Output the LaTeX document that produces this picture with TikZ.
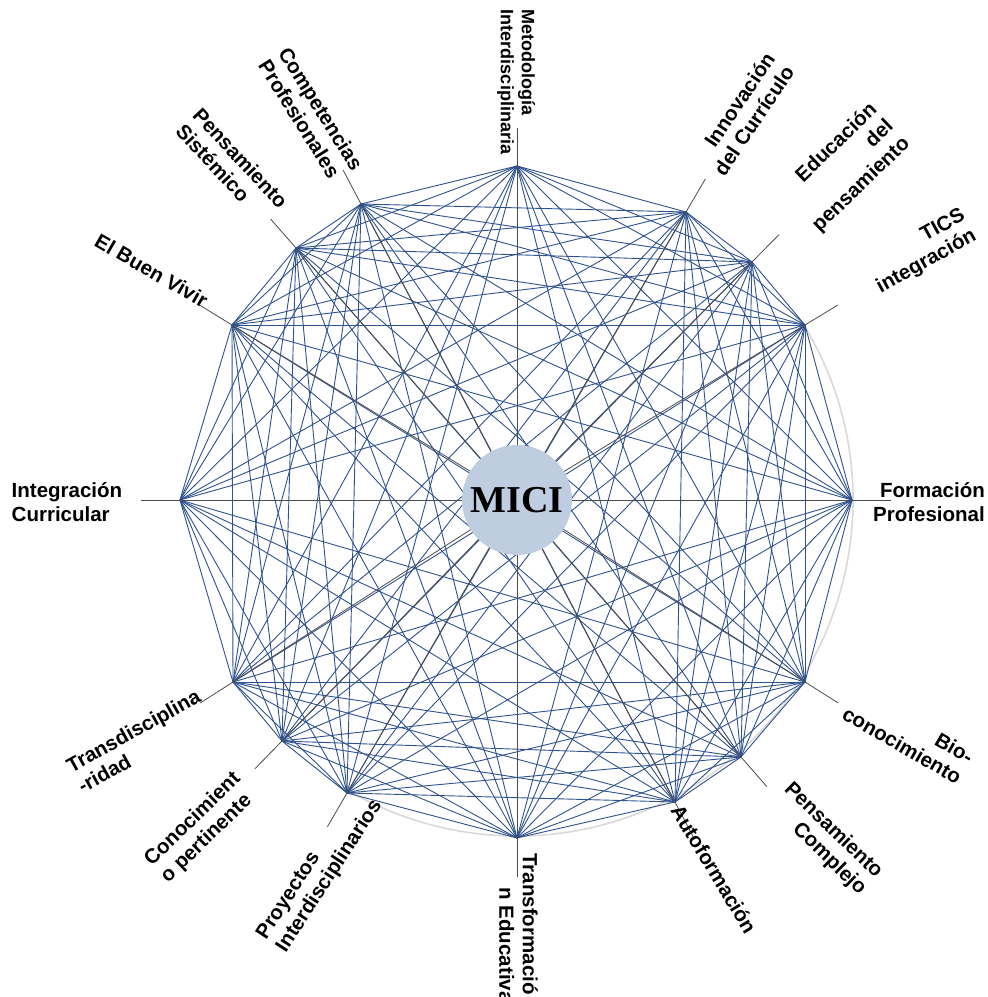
\documentclass[tikz,border=0pt]{standalone}
\usepackage{fontspec}
\setmainfont{Liberation Sans}
\newfontfamily\micifont{Liberation Serif}
\usetikzlibrary{calc}
\definecolor{chordblue}{RGB}{47,82,143}
\definecolor{hubfill}{RGB}{191,205,224}
\tikzset {
  chord/.style={chordblue,line width=0.9pt},
  spoke/.style={black!70,line width=0.8pt},
  lbl/.style={font=\fontsize{20.5}{23.5}\selectfont\bfseries,inner sep=0pt},
}

\begin{document}
\begin{tikzpicture}[x=1pt,y=1pt]
  \useasboundingbox (-517,-497) rectangle (471,500);
  \draw[black!15,line width=1.6pt] (31:336pt) arc[start angle=31,end angle=-122,radius=336pt];
  \foreach \n/\x/\y in {1/0/334,2/169/288,3/235/238,4/288/175,5/335/0,6/288/-182,
      7/224/-257,8/158/-302,9/0/-338,10/-170/-293,11/-235/-241,12/-284/-182,
      13/-337/0,14/-285/175,15/-221/252,16/-156/296} {
    \coordinate (v\n) at (\x,\y);
    \coordinate (t\n) at (1.115*\x,1.115*\y);
  }
  \foreach \i [evaluate=\i as \k using {int(\i+1)}] in {1,...,15}
    \foreach \j in {\k,...,16}
      \draw[chord] (v\i) -- (v\j);
  \foreach \n in {1,...,16}
    \draw[spoke] (0,0) -- (t\n);
  \node[circle,fill=hubfill,minimum size=110pt,inner sep=0pt,
    font=\micifont\fontsize{38}{40}\selectfont\bfseries] (hub) at (0,0) {MICI};
  % etiquetas
  \node[lbl,font=\fontsize{18}{21}\selectfont\bfseries,rotate=-90,align=left] (metodologia) at (-1,418) {Metodología\\Interdisciplinaria};
  \node[lbl,rotate=56,align=right] (innovacion) at (227,386) {Innovación\\del Currículo};
  \node[lbl,rotate=44,align=right] (educacion) at (328,332) {Educación\\del\\pensamiento};
  \node[lbl,rotate=29,align=right] (tics) at (404,248) {TICS\\integración};
  \node[lbl,align=right] (formacion) at (412,-2) {Formación\\Profesional};
  \node[lbl,rotate=-30,align=right] (bio) at (391,-235) {Bio-\\conocimiento};
  \node[lbl,rotate=-44,align=right] (complejo) at (308,-339) {Pensamiento\\Complejo};
  \node[lbl,rotate=-59] (autoformacion) at (197,-369) {Autoformación};
  \node[lbl,rotate=-90,align=left] (transformacion) at (1.5,-428) {Transformació\\\hspace*{34pt}n Educativa};
  \node[lbl,rotate=57,align=left] (proyectos) at (-197,-370) {Proyectos\\Interdisciplinarios};
  \node[lbl,rotate=44,align=left] (conocimiento) at (-316,-328) {Conocimient\\o pertinente};
  \node[lbl,rotate=29,align=left] (transdisciplina) at (-378,-241) {Transdisciplina\\-ridad};
  \node[lbl,align=left] (integracion) at (-450,-2) {Integración\\Curricular};
  \node[lbl,rotate=-30] (buenvivir) at (-365.5,229.5) {El Buen Vivir};
  \node[lbl,rotate=-47,align=left] (sistemico) at (-285,334) {Pensamiento\\Sistémico};
  \node[lbl,rotate=-58,align=left] (competencias) at (-206,385) {Competencias\\Profesionales};
\end{tikzpicture}
\end{document}
